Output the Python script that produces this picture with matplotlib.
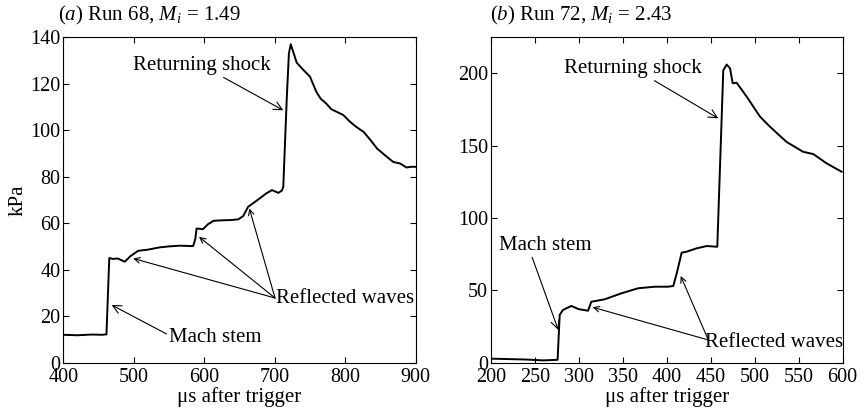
import matplotlib
matplotlib.use("Agg")
import matplotlib.pyplot as plt

plt.rcParams['font.family'] = 'Liberation Serif'
plt.rcParams['mathtext.fontset'] = 'custom'
plt.rcParams['mathtext.rm'] = 'Liberation Serif'
plt.rcParams['mathtext.it'] = 'Liberation Serif:italic'

# Run 68 trace
t_a = [400, 420, 440, 455, 461, 465, 470, 477, 487, 495, 506, 520, 537, 550, 565, 584, 587, 589,
       598, 605, 613, 625, 637, 648, 655, 662, 674, 688, 696, 705, 710, 712, 717, 720, 722.6,
       731, 740, 750, 759, 765, 773, 780, 788, 797, 807, 815, 826, 835, 845, 855, 868, 878,
       887, 893, 899]
p_a = [12.0, 11.8, 12.1, 12.0, 12.2, 45.0, 44.6, 44.8, 43.4, 45.8, 48.1, 48.6, 49.6, 50.0, 50.3, 50.1, 53.0, 57.7,
       57.4, 59.5, 61.0, 61.2, 61.3, 61.6, 63.0, 67.0, 69.6, 72.8, 74.2, 73.0, 74.0, 75.6, 114.0, 133.0, 136.9,
       129.0, 126.0, 122.9, 116.4, 113.5, 111.4, 109.0, 107.8, 106.5, 103.5, 101.5, 99.2, 96.0, 92.1, 89.5, 86.3, 85.6,
       83.9, 84.2, 84.2]

# Run 72 trace
t_b = [200, 220, 240, 260, 276, 278.4, 282, 291.6, 300, 310.6, 314.3, 329.5, 348.4, 367.4, 386.4, 401.5,
       407.5, 411.4, 417, 422.7, 434, 445.5, 457.5, 464.3, 468.2, 472, 475, 479.5, 491, 506, 517.4,
       536, 555, 566.6, 581.8, 598.8]
p_b = [2.8, 2.5, 2.2, 1.6, 2.0, 33.0, 36.4, 39.2, 37.0, 35.9, 42.1, 43.8, 47.9, 51.4, 52.5, 52.5,
       53.0, 61.7, 76.0, 76.7, 79.0, 80.6, 80.1, 202.0, 206.0, 203.3, 193.0, 193.4, 183.7, 170.0, 163.0,
       152.6, 145.7, 144.1, 137.7, 131.9]

fig = plt.figure(figsize=(8.65, 4.17), dpi=100)
ax1 = fig.add_axes([0.0734, 0.1302, 0.4072, 0.7811])
ax2 = fig.add_axes([0.5673, 0.1302, 0.4069, 0.7811])

arrow = dict(arrowstyle='->', color='black', lw=0.8, shrinkA=0, shrinkB=0)
FS = 15

for ax in (ax1, ax2):
    ax.tick_params(direction='in', top=True, right=True, labelsize=14.5, length=4, width=0.8, pad=2)
    ax.tick_params(axis='x', pad=4)
    ax.set_xlabel('\u03bcs after trigger', fontsize=FS, labelpad=0)

# (a)
ax1.plot(t_a, p_a, color='black', lw=1.4)
ax1.set_xlim(400, 900)
ax1.set_ylim(0, 140)
ax1.set_xticks([400, 500, 600, 700, 800, 900])
ax1.set_yticks([0, 20, 40, 60, 80, 100, 120, 140])
ax1.set_ylabel('kPa', fontsize=FS, labelpad=2)
ax1.annotate('Returning shock', xy=(712, 108.5), xytext=(596.6, 127.9), fontsize=FS,
             ha='center', va='center', arrowprops=dict(arrow, relpos=(0.62, 0.0)))
ax1.annotate('Mach stem', xy=(468.4, 24.8), xytext=(616, 10.9), fontsize=FS,
             ha='center', va='center', arrowprops=dict(arrow, relpos=(0.0, 0.6)))
ax1.text(799.6, 27.7, 'Reflected waves', fontsize=FS, ha='center', va='center')
for hx, hy in [(499, 44.8), (592.4, 54.1), (663.8, 66.3)]:
    ax1.annotate('', xy=(hx, hy), xytext=(700.3, 27.8), arrowprops=arrow)
fig.text(0.067, 0.964, r'($\it{a}$) Run 68, $M_i$ = 1.49', fontsize=FS, ha='left', va='center')

# (b)
ax2.plot(t_b, p_b, color='black', lw=1.4)
ax2.set_xlim(200, 600)
ax2.set_ylim(0, 225)
ax2.set_xticks(range(200, 601, 50))
ax2.set_yticks([0, 50, 100, 150, 200])
ax2.annotate('Returning shock', xy=(458.6, 168.8), xytext=(362, 203.3), fontsize=FS,
             ha='center', va='center', arrowprops=dict(arrow, relpos=(0.62, 0.0)))
ax2.annotate('Mach stem', xy=(276.8, 22.6), xytext=(261.7, 81.3), fontsize=FS,
             ha='center', va='center', arrowprops=dict(arrow, relpos=(0.35, 0.0)))
ax2.text(522, 13.8, 'Reflected waves', fontsize=FS, ha='center', va='center')
for hx, hy in [(315.9, 38.3), (415.9, 59.9)]:
    ax2.annotate('', xy=(hx, hy), xytext=(447.3, 15.7), arrowprops=arrow)
fig.text(0.566, 0.964, r'($\it{b}$) Run 72, $M_i$ = 2.43', fontsize=FS, ha='left', va='center')

fig.savefig('out.png', dpi=100)
